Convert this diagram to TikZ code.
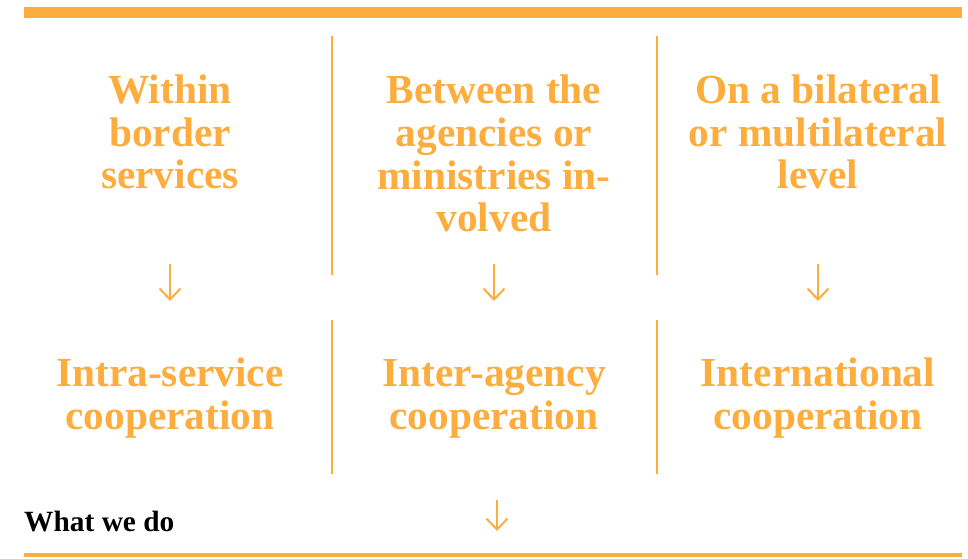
\documentclass[tikz,border=0pt]{standalone}
\usepackage{fontspec}
\setmainfont{Liberation Serif}
\usetikzlibrary{arrows.meta}
\definecolor{accent}{RGB}{253,173,61}
\tikzset{
  lbl/.style={text=accent, font=\bfseries\fontsize{41.5}{43}\selectfont, align=center, inner sep=0pt, anchor=base},
  sep/.style={draw=accent, line width=2bp},
  flow/.style={draw=accent, line width=2bp, -{Straight Barb[length=11bp,width=21bp,line width=2bp]}},
}
\begin{document}
\begin{tikzpicture}[x=1bp,y=-1bp]
\useasboundingbox (0,0) rectangle (968,559);
% rules
\fill[accent] (24,7) rectangle (962,18);
\fill[accent] (24,553) rectangle (962,557);
% separators
\coordinate (s1a) at (332,36); \coordinate (s1b) at (332,275);
\coordinate (s1c) at (332,320); \coordinate (s1d) at (332,474);
\coordinate (s2a) at (657,36); \coordinate (s2b) at (657,275);
\coordinate (s2c) at (657,320); \coordinate (s2d) at (657,474);
\draw[sep] (s1a) -- (s1b); \draw[sep] (s1c) -- (s1d);
\draw[sep] (s2a) -- (s2b); \draw[sep] (s2c) -- (s2d);
% top labels (anchor = baseline of last line)
\node[lbl] (t1) at (170,189) {Within\\border\\services};
\node[lbl] (t2) at (494,232) {Between the\\agencies or\\ministries in-\\volved};
\node[lbl] (t3) at (818,189) {On a bilateral\\or multilateral\\level};
% bottom labels
\node[lbl] (b1) at (170,429) {Intra-service\\cooperation};
\node[lbl] (b2) at (494,429) {Inter-agency\\cooperation};
\node[lbl] (b3) at (818,429) {International\\cooperation};
% arrows
\coordinate (a1s) at (170,264); \coordinate (a1e) at (170,301);
\coordinate (a2s) at (494,264); \coordinate (a2e) at (494,301);
\coordinate (a3s) at (818,264); \coordinate (a3e) at (818,301);
\coordinate (a4s) at (497,500); \coordinate (a4e) at (497,531);
\draw[flow] (a1s) -- (a1e);
\draw[flow] (a2s) -- (a2e);
\draw[flow] (a3s) -- (a3e);
\draw[flow] (a4s) -- (a4e);
% footer label
\node[font=\bfseries\fontsize{29.5}{31}\selectfont, inner sep=0pt, anchor=base west] (wwd) at (24,531) {What we do};
\end{tikzpicture}
\end{document}
